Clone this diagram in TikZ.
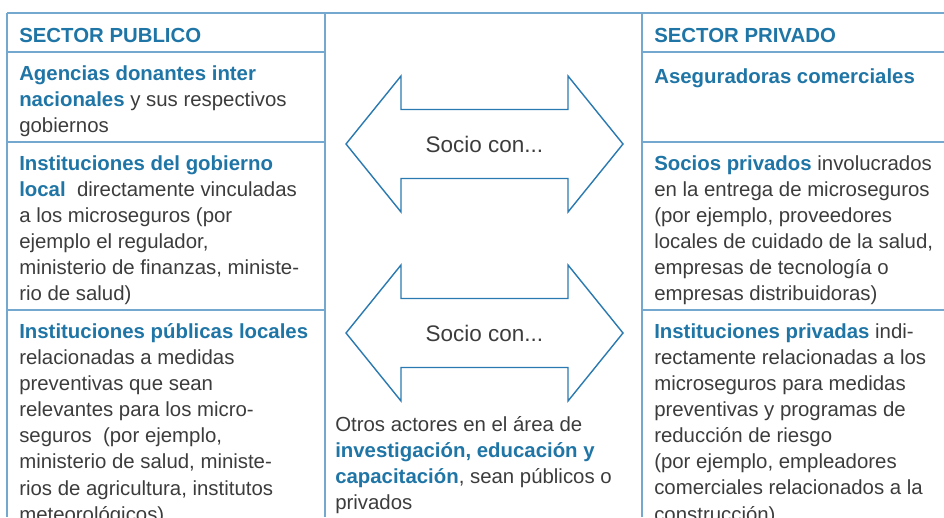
\documentclass[tikz,border=0pt]{standalone}
\usepackage{fontspec}
\setmainfont{Liberation Sans}
\usetikzlibrary{calc}
\definecolor{textblue}{HTML}{1F75A6}
\definecolor{textgray}{HTML}{3C3C3C}
\definecolor{gridblue}{HTML}{74A8CE}
\definecolor{arrowblue}{HTML}{2A79B0}
\newcommand{\hl}[1]{\textbf{\color{textblue}#1}}
\def\socioarrow(#1){\draw[arrowline] ($(#1)+(-3.4625,0)$) -- ++(1.375,1.7) -- ++(0,-0.8375) -- ++(4.175,0) -- ++(0,0.8375) -- ++(1.375,-1.7) -- ++(-1.375,-1.7) -- ++(0,0.8375) -- ++(-4.175,0) -- ++(0,-0.8375) -- cycle;}
\tikzset{
  gridline/.style={line width=1pt, color=gridblue},
  arrowline/.style={line width=1pt, color=arrowblue},
  cell/.style={anchor=north west, align=left, inner sep=0pt, text=textgray,
    font=\fontsize{14.5}{18.6}\selectfont, execute at begin node=\strut},
  sociotext/.style={inner sep=0pt, text=textgray, font=\fontsize{16}{20}\selectfont}
}
\begin{document}
\begin{tikzpicture}
			%%%%% FRAME %%%%%
			\useasboundingbox (0, 0) rectangle (23.6, 12.925);
			
			\draw[gridline] (0.175, 12.6) -- (23.6, 12.6);
			\draw[gridline] (0.175, 12.6) -- (0.175, 0);
			\draw[gridline] (8.125, 12.6) -- (8.125, 0);
			\draw[gridline] (16.05, 12.6) -- (16.05, 0);
			
			\draw[gridline] (0.175, 11.625) -- (8.125, 11.625);
			\draw[gridline] (0.175, 9.375) -- (8.125, 9.375);
			\draw[gridline] (0.175, 5.175) -- (8.125, 5.175);
			
			\draw[gridline] (16.05, 11.625) -- (23.6, 11.625);
			\draw[gridline] (16.05, 9.375) -- (23.6, 9.375);
			\draw[gridline] (16.05, 5.175) -- (23.6, 5.175);
			
			%%%%% SECTOR PUBLICO %%%%%
			\node[cell] (pubhead) at (0.475, 12.33) {\hl{SECTOR PUBLICO}};
			\node[cell] (agencias) at (0.475, 11.30) {\hl{Agencias donantes inter}\\
				\hl{nacionales} y sus respectivos\\
				gobiernos};
			\node[cell] (gobierno) at (0.475, 9.05) {\hl{Instituciones del gobierno}\\
				\hl{local}\ \ directamente vinculadas\\
				a los microseguros (por\\
				ejemplo el regulador,\\
				ministerio de finanzas, ministe-\\
				rio de salud)};
			\node[cell] (publicas) at (0.475, 4.85) {\hl{Instituciones públicas locales}\\
				relacionadas a medidas\\
				preventivas que sean\\
				relevantes para los micro-\\
				seguros\ \ (por ejemplo,\\
				ministerio de salud, ministe-\\
				rios de agricultura, institutos\\
				meteorológicos)};
			
			%%%%% SOCIO CON %%%%%
			\socioarrow(12.1125, 9.325);
			\node[sociotext] (socioa) at (12.1125, 9.325) {Socio con...};
			\socioarrow(12.1125, 4.6);
			\node[sociotext] (sociob) at (12.1125, 4.6) {Socio con...};
			
			\node[cell] (otros) at (8.375, 2.53) {Otros actores en el área de\\
				\hl{investigación, educación y}\\
				\hl{capacitación}, sean públicos o\\
				privados};
			
			%%%%% SECTOR PRIVADO %%%%%
			\node[cell] (privhead) at (16.35, 12.33) {\hl{SECTOR PRIVADO}};
			\node[cell] (aseguradoras) at (16.35, 11.30) {\hl{Aseguradoras comerciales}};
			\node[cell] (socios) at (16.35, 9.05) {\hl{Socios privados} involucrados\\
				en la entrega de microseguros\\
				(por ejemplo, proveedores\\
				locales de cuidado de la salud,\\
				empresas de tecnología o\\
				empresas distribuidoras)};
			\node[cell] (privadas) at (16.35, 4.85) {\hl{Instituciones privadas} indi-\\
				rectamente relacionadas a los\\
				microseguros para medidas\\
				preventivas y programas de\\
				reducción de riesgo\\
				(por ejemplo, empleadores\\
				comerciales relacionados a la\\
				construcción)};
			
			%%%%% END %%%%%
\end{tikzpicture}
\end{document}
